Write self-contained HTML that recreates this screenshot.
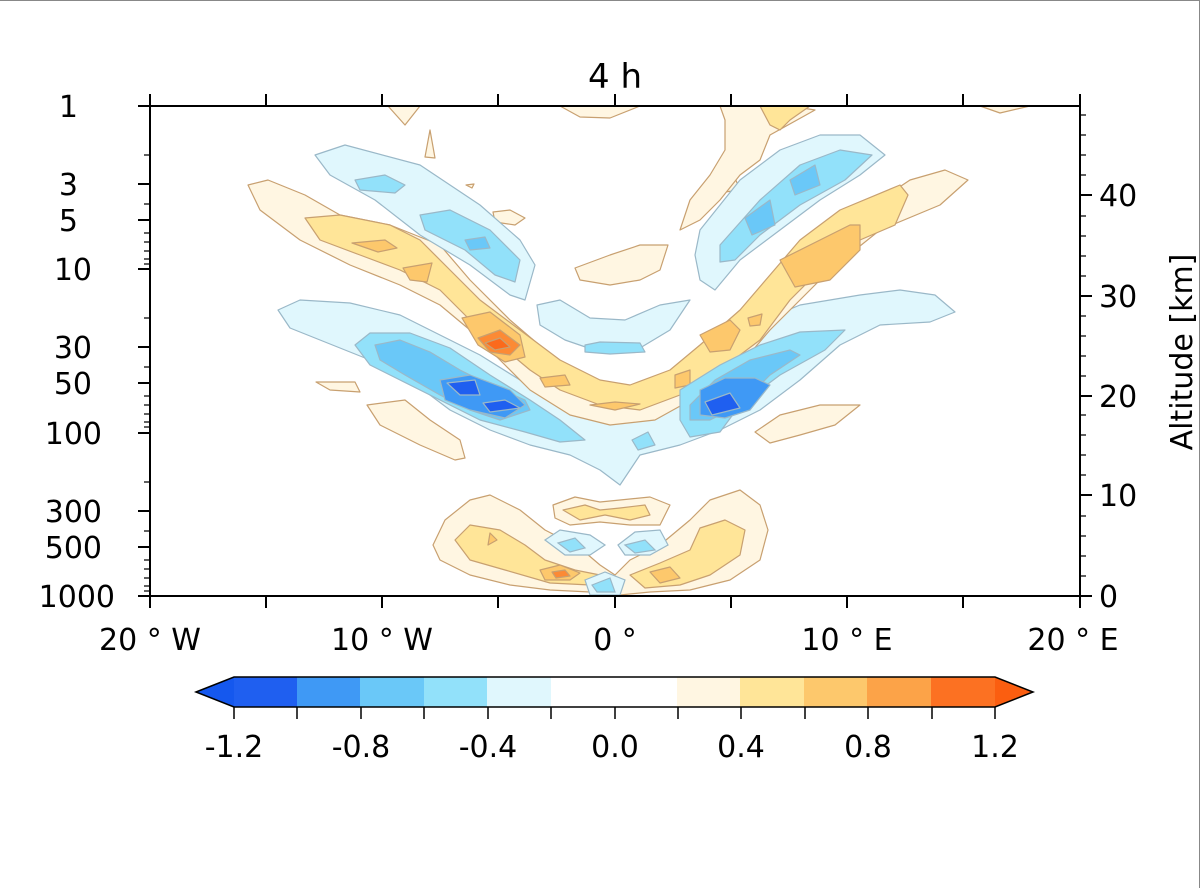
<!DOCTYPE html>
<html><head><style>html,body{margin:0;padding:0;background:#fff}svg{display:block}</style></head><body>
<svg width="1200" height="888" viewBox="0 0 1200 888" xmlns="http://www.w3.org/2000/svg" font-family="'DejaVu Sans','Liberation Sans',sans-serif">
<rect width="1200" height="888" fill="#fff"/>
<g stroke="#9ab8c8" stroke-width="1.2" stroke-linejoin="round">
<polygon fill="#e0f7fd" points="278,310 300,300 350,303 400,315 440,335 480,355 520,380 560,400 590,410 620,412 660,395 700,360 740,330 800,305 860,295 900,290 935,295 955,312 930,322 880,325 840,345 800,380 760,410 720,430 680,445 640,455 620,485 600,470 570,455 530,445 490,430 450,410 410,380 370,360 320,340 290,328"/>
</g>
<g stroke="#c8a070" stroke-width="1.2" stroke-linejoin="round">
<polygon fill="#fff6e2" points="248,185 268,180 305,195 340,215 390,225 440,245 470,280 510,320 545,350 580,380 610,400 640,395 680,370 720,340 760,300 800,260 840,230 880,200 910,180 945,170 968,180 940,205 880,230 830,270 795,305 770,330 740,365 700,395 655,420 610,425 570,415 530,390 500,360 470,330 440,305 400,285 350,265 300,240 260,210"/>
<polygon fill="#ffe598" points="305,218 340,215 390,225 420,240 450,270 480,300 520,330 560,360 600,380 630,385 670,370 700,345 740,310 770,275 800,240 840,210 900,185 908,195 895,225 860,240 820,270 790,300 760,340 720,370 680,395 640,410 600,405 560,390 530,370 500,345 470,320 440,290 400,270 360,255 320,240"/>
<g fill="#fdc86c">
<polygon points="352,243 385,240 397,248 378,252"/><polygon points="403,268 432,263 427,282 410,280"/>
<polygon points="462,318 490,312 520,335 525,357 505,362 478,345"/><polygon points="540,378 565,375 570,385 545,387"/>
<polygon points="700,335 730,320 740,330 730,350 710,352"/><polygon points="748,318 762,314 760,325 750,326"/>
<polygon points="780,260 820,240 850,225 860,225 860,250 830,280 795,287"/><polygon points="675,375 690,370 690,385 675,388"/>
<polygon points="590,405 615,402 640,404 615,410"/>
</g>
<polygon fill="#fc8a35" points="478,338 500,330 520,345 510,355 490,352"/>
<polygon fill="#fb6a1c" points="485,343 500,338 510,347 495,350"/>
<g fill="#fff6e2">
<polygon points="388,106 420,106 405,125"/><polygon points="560,106 640,106 610,118 580,117"/><polygon points="980,106 1030,106 1000,113"/>
<polygon points="425,157 430,130 435,158"/><polygon points="720,185 735,178 740,190 725,192"/><polygon points="493,212 510,210 525,218 515,225 495,222"/>
<polygon points="720,106 790,106 815,110 770,135 760,160 740,175 720,200 700,220 680,230 690,200 710,175 725,150 725,120"/>
<polygon points="575,268 610,255 640,245 668,245 660,270 640,280 610,285 580,280"/>
<polygon points="316,382 355,382 360,392 330,390"/><polygon points="367,405 405,400 430,420 460,440 465,458 455,460 420,445 380,425"/>
<polygon points="755,432 780,415 820,405 860,405 835,425 800,435 770,443"/>
<polygon points="466,185 474,184 472,188"/>
</g>
<polygon fill="#ffe598" points="760,106 810,106 790,120 780,130 770,125"/>
</g>
<g stroke="#9ab8c8" stroke-width="1.2" stroke-linejoin="round">
<polygon fill="#e0f7fd" points="315,155 345,145 420,165 480,205 520,240 535,265 525,300 510,295 470,265 420,235 375,200 330,175"/>
<polygon fill="#92e1fa" points="355,180 385,175 405,185 395,193 360,190"/>
<polygon fill="#92e1fa" points="420,215 450,210 490,230 520,260 515,282 495,275 465,250 425,230"/>
<polygon fill="#6ac8f8" points="465,240 485,237 490,248 470,250"/>
<polygon fill="#92e1fa" points="355,345 370,333 410,333 450,348 490,375 530,400 560,420 585,440 560,442 525,432 480,420 440,400 400,380 370,365"/>
<polygon fill="#92e1fa" points="680,390 720,365 760,345 800,332 845,330 825,350 780,375 740,405 720,432 690,437 680,420"/>
<polygon fill="#6ac8f8" points="375,345 400,340 430,352 460,370 490,385 525,400 530,410 500,420 470,410 440,395 405,375 380,360"/>
<polygon fill="#6ac8f8" points="690,405 715,380 750,360 790,350 800,355 770,375 740,405 710,420 690,420"/>
<polygon fill="#3f99f5" points="440,380 470,375 510,390 525,405 505,418 470,410 445,400"/>
<polygon fill="#3f99f5" points="700,390 725,378 755,378 770,385 750,410 725,418 700,415"/>
<polygon fill="#1f5ff0" points="447,383 475,380 480,395 460,395"/><polygon fill="#1f5ff0" points="483,403 505,400 520,408 490,412"/>
<polygon fill="#1f5ff0" points="705,402 730,393 740,408 712,415"/>
<polygon fill="#e0f7fd" points="537,305 560,300 590,318 625,320 660,305 690,300 670,330 640,348 600,352 565,340 540,325"/>
<polygon fill="#92e1fa" points="585,345 600,342 640,343 645,352 610,354 585,352"/>
<polygon fill="#92e1fa" points="632,440 648,432 655,445 638,450"/>
<polygon fill="#e0f7fd" points="700,230 740,180 780,150 820,135 860,135 885,155 860,175 820,200 780,230 740,260 715,290 700,280 695,255"/>
<polygon fill="#92e1fa" points="720,245 760,200 800,165 840,150 872,155 845,180 800,205 760,235 735,260 720,262"/>
<polygon fill="#6ac8f8" points="745,218 770,200 775,225 752,235"/><polygon fill="#6ac8f8" points="790,180 815,165 820,185 795,195"/>
</g>
<g stroke="#c8a070" stroke-width="1.2" stroke-linejoin="round">
<polygon fill="#fff6e2" points="433,545 445,520 470,500 490,495 520,510 545,530 580,548 600,565 615,575 630,560 660,545 690,520 710,500 740,490 760,505 768,530 760,560 730,580 690,590 650,592 620,595 590,592 550,590 510,585 470,575 440,560"/>
<polygon fill="#fff6e2" points="553,505 575,497 600,502 620,500 650,497 670,505 660,525 630,525 600,522 570,525 555,518"/>
<polygon fill="#ffe598" points="455,540 470,525 500,530 525,545 545,560 575,570 600,575 590,585 550,583 505,570 470,560"/>
<polygon fill="#ffe598" points="630,575 660,563 690,550 700,528 725,520 745,530 740,555 710,575 680,585 645,588"/>
<polygon fill="#ffe598" points="563,510 585,505 600,510 620,508 645,505 650,515 630,520 605,515 580,520"/>
<polygon fill="#fdc86c" points="490,533 497,540 488,545"/><polygon fill="#fdc86c" points="540,570 560,565 580,573 570,580 545,580"/>
<polygon fill="#fdc86c" points="650,572 670,567 680,578 660,583"/>
<polygon fill="#fc8a35" points="552,572 565,570 570,576 556,578"/>
</g>
<g stroke="#9ab8c8" stroke-width="1.2">
<polygon fill="#e0f7fd" points="545,540 560,530 590,535 605,545 590,555 565,555"/>
<polygon fill="#e0f7fd" points="618,545 635,532 660,530 668,545 650,555 625,555"/>
<polygon fill="#e0f7fd" points="585,580 605,572 625,580 620,595 590,595"/>
<polygon fill="#92e1fa" points="558,543 575,538 585,548 570,552"/><polygon fill="#92e1fa" points="625,545 645,540 655,550 635,553"/>
<polygon fill="#92e1fa" points="592,585 610,578 615,592 597,592"/>
</g>
<rect x="150" y="106" width="930" height="490" fill="none" stroke="#000" stroke-width="2"/>
<g stroke="#000" stroke-width="2">
<path d="M150,596v12M266,596v12M382,596v12M498,596v12M615,596v12M731,596v12M847,596v12M963,596v12M1080,596v12"/>
<path d="M150,106v-12M266,106v-12M382,106v-12M498,106v-12M615,106v-12M731,106v-12M847,106v-12M963,106v-12M1080,106v-12"/>
<path d="M150,106h-12M150,184h-12M150,220h-12M150,269h-12M150,347h-12M150,383h-12M150,433h-12M150,511h-12M150,547h-12M150,596h-12"/>
<path d="M1080,596h12M1080,495h12M1080,396h12M1080,296h12M1080,195h12"/>
</g>
<g stroke="#000" stroke-width="1.3">
<path d="M150,155h-6M150,204h-6M150,233h-6M150,242h-6M150,251h-6M150,259h-6M150,264h-6M150,318h-6M150,367h-6M150,396h-6M150,405h-6M150,414h-6M150,422h-6M150,427h-6M150,482h-6M150,531h-6M150,560h-6M150,569h-6M150,578h-6M150,586h-6M150,591h-6"/>
<path d="M1080,576h6M1080,556h6M1080,536h6M1080,516h6M1080,475h6M1080,455h6M1080,435h6M1080,415h6M1080,376h6M1080,356h6M1080,336h6M1080,316h6M1080,276h6M1080,256h6M1080,236h6M1080,216h6M1080,175h6M1080,155h6M1080,135h6M1080,115h6"/>
</g>
<g font-size="30" fill="#000">
<text x="615" y="88" text-anchor="middle" font-size="34">4 h</text>
<g text-anchor="end">
<text x="78" y="117">1</text><text x="78" y="195">3</text><text x="78" y="231">5</text><text x="92" y="280">10</text>
<text x="92" y="358">30</text><text x="92" y="394">50</text><text x="102" y="444">100</text><text x="102" y="522">300</text>
<text x="102" y="558">500</text><text x="115" y="607">1000</text></g>
<g text-anchor="start">
<text x="1099" y="607">0</text><text x="1099" y="506">10</text><text x="1099" y="407">20</text><text x="1099" y="307">30</text><text x="1099" y="206">40</text></g>
<g text-anchor="middle">
<text x="150" y="650">20 ° W</text><text x="382" y="650">10 ° W</text><text x="615" y="650">0 °</text><text x="847" y="650">10 ° E</text><text x="1073" y="650">20 ° E</text></g>
<text transform="translate(1192,352) rotate(-90)" text-anchor="middle">Altitude [km]</text>
</g>
<g>
<polygon points="234,677 234,707 196,692" fill="#1558ee"/>
<rect x="234" y="677" width="64" height="30" fill="#1f5ff0"/>
<rect x="297" y="677" width="64" height="30" fill="#3f99f5"/>
<rect x="360" y="677" width="64" height="30" fill="#6ac8f8"/>
<rect x="424" y="677" width="64" height="30" fill="#92e1fa"/>
<rect x="487" y="677" width="64" height="30" fill="#e0f7fd"/>
<rect x="677" y="677" width="64" height="30" fill="#fff6e2"/>
<rect x="740" y="677" width="64" height="30" fill="#ffe598"/>
<rect x="804" y="677" width="64" height="30" fill="#fdc86c"/>
<rect x="867" y="677" width="64" height="30" fill="#fca348"/>
<rect x="931" y="677" width="64" height="30" fill="#fc7122"/>
<polygon points="995,677 995,707 1033,692" fill="#fb5e10"/>
<polygon points="196,692 234,677 995,677 1033,692 995,707 234,707" fill="none" stroke="#000" stroke-width="1.5"/>
<path stroke="#000" stroke-width="1.5" d="M234,707v12M297,707v12M361,707v12M424,707v12M488,707v12M551,707v12M615,707v12M678,707v12M741,707v12M805,707v12M868,707v12M932,707v12M995,707v12"/>
<g font-size="30" text-anchor="middle">
<text x="234" y="757">-1.2</text><text x="361" y="757">-0.8</text><text x="488" y="757">-0.4</text><text x="615" y="757">0.0</text>
<text x="741" y="757">0.4</text><text x="868" y="757">0.8</text><text x="995" y="757">1.2</text></g>
</g>
<path d="M0,0.5H1199.5V888" fill="none" stroke="#888" stroke-width="1"/>
</svg>
</body></html>
